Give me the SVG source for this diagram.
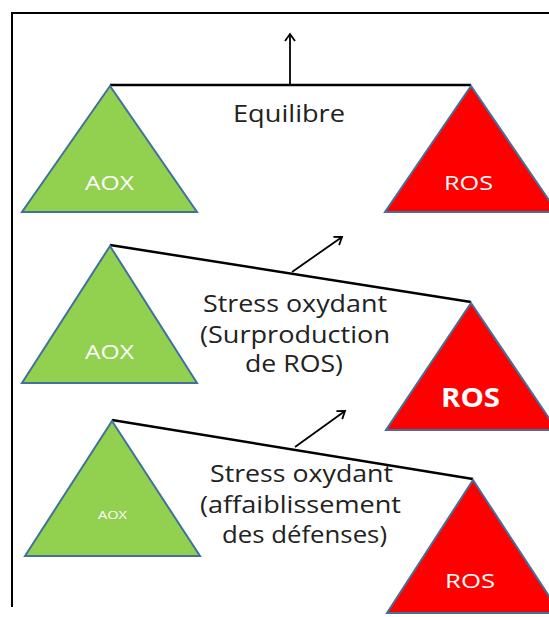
<svg xmlns="http://www.w3.org/2000/svg" width="549" height="617" viewBox="0 0 549 617">
<style>
.aox{fill:#92d050;stroke:#41719c;stroke-width:2;stroke-linejoin:miter}
.ros{fill:#ff0000;stroke:#41719c;stroke-width:2}
.beam{stroke:#000;stroke-width:2.5;fill:none}
.arr{stroke:#000;stroke-width:1.8;fill:none;marker-end:url(#ah)}
.lbl{font-family:"Open Sans","Liberation Sans",sans-serif;font-size:23px;fill:#222}
.w{font-family:"Open Sans","Liberation Sans",sans-serif;fill:#fff}
</style>
<defs>
<marker id="ah" markerWidth="12" markerHeight="12" refX="9" refY="6" orient="auto" markerUnits="userSpaceOnUse">
<path d="M2,1 L9,6 L2,11" fill="none" stroke="#000" stroke-width="1.8"/>
</marker>
</defs>
<rect x="0" y="0" width="549" height="617" fill="#fff"/>
<path d="M12,607 V13 H549" fill="none" stroke="#000" stroke-width="2"/>
<g id="connectors">
<line class="beam" x1="110" y1="85" x2="471" y2="85"/>
<line class="arr" x1="290" y1="85" x2="290" y2="34"/>
<line class="beam" x1="110" y1="245" x2="471" y2="302"/>
<line class="arr" x1="292" y1="272" x2="342" y2="237"/>
<line class="beam" x1="112" y1="420" x2="473" y2="479"/>
<line class="arr" x1="295" y1="447" x2="345" y2="411"/>
</g>
<g id="aox1"><polygon class="aox" points="110,86 22,212 197,212"/><text class="w" x="85" y="190" font-size="20" textLength="49" lengthAdjust="spacingAndGlyphs">AOX</text></g>
<g id="ros1"><polygon class="ros" points="471,86 385,212 557,212"/><text class="w" x="444" y="190" font-size="20" textLength="49" lengthAdjust="spacingAndGlyphs">ROS</text></g>
<g id="label1"><text class="lbl" x="233" y="122" textLength="112" lengthAdjust="spacingAndGlyphs">Equilibre</text></g>
<g id="aox2"><polygon class="aox" points="110,246 22,383 197,383"/><text class="w" x="85" y="359" font-size="20" textLength="49" lengthAdjust="spacingAndGlyphs">AOX</text></g>
<g id="ros2"><polygon class="ros" points="471,303 386,430 557,430"/><text class="w" x="441" y="407" font-size="26" font-weight="bold" textLength="59" lengthAdjust="spacingAndGlyphs">ROS</text></g>
<g id="label2"><text class="lbl"><tspan x="203" y="312" textLength="184" lengthAdjust="spacingAndGlyphs">Stress oxydant</tspan><tspan x="200" y="343" textLength="190" lengthAdjust="spacingAndGlyphs">(Surproduction</tspan><tspan x="245" y="372" textLength="98" lengthAdjust="spacingAndGlyphs">de ROS)</tspan></text></g>
<g id="aox3"><polygon class="aox" points="112,421 25,556 200,556"/><text class="w" x="98" y="519" font-size="10" textLength="29" lengthAdjust="spacingAndGlyphs">AOX</text></g>
<g id="ros3"><polygon class="ros" points="473,480 387,613 560,613"/><text class="w" x="445" y="588" font-size="20" textLength="50" lengthAdjust="spacingAndGlyphs">ROS</text></g>
<g id="label3"><text class="lbl"><tspan x="210" y="482" textLength="183" lengthAdjust="spacingAndGlyphs">Stress oxydant</tspan><tspan x="200" y="513" textLength="201" lengthAdjust="spacingAndGlyphs">(affaiblissement</tspan><tspan x="222" y="543" textLength="165" lengthAdjust="spacingAndGlyphs">des défenses)</tspan></text></g>
</svg>
